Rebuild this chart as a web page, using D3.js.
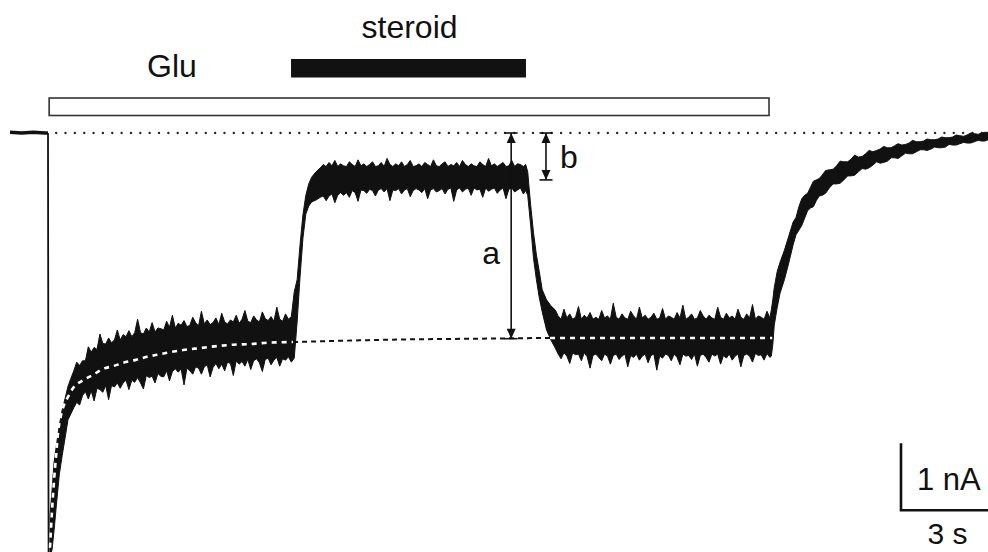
<!DOCTYPE html>
<html><head><meta charset="utf-8">
<script src="https://cdn.jsdelivr.net/npm/d3@7"></script>
<style>html,body{margin:0;padding:0;background:#fff;} svg{display:block}</style>
</head><body><svg id="c" width="988" height="552"></svg>
<script>
// ---- data: time (s), current (nA) ----
const preTrace = [[0,0.01],[0.4,0],[0.8,0.01],[1.2,0],[1.31,0]];
const dropTrace = [[1.31,0],[1.33,-6.32],[1.38,-6.31]];
// [t, upper envelope, lower envelope] of the noisy current
const gluPhase = [[1.38,-5.70,-6.31],[1.45,-5.33,-6.22],[1.52,-4.91,-5.93],[1.60,-4.66,-5.55],[1.70,-4.36,-5.10],[1.80,-4.13,-4.81],[1.90,-3.96,-4.55],[2.00,-3.78,-4.28],[2.10,-3.66,-4.19],[2.20,-3.55,-4.10],[2.30,-3.42,-4.02],[2.40,-3.47,-4.06],
[2.5,-3.40,-3.92],[2.6,-3.40,-3.86],[2.7,-3.19,-3.97],[2.8,-3.27,-3.85],[2.9,-3.20,-4.00],[3.0,-3.23,-3.81],[3.1,-3.00,-3.83],[3.2,-3.14,-3.87],[3.3,-3.15,-3.77],[3.4,-3.06,-3.98],[3.5,-3.13,-3.77],[3.6,-3.09,-3.79],[3.7,-2.94,-3.73],[3.8,-3.09,-3.81],[3.9,-3.01,-3.73],[4.0,-3.04,-3.69],[4.1,-2.95,-3.83],[4.2,-3.04,-3.69],[4.3,-2.98,-3.72],[4.4,-2.78,-3.65],[4.5,-2.98,-3.73],[4.6,-3.00,-3.82],[4.7,-2.91,-3.62],[4.8,-2.97,-3.65],[4.9,-2.83,-3.63],[5.0,-2.97,-3.73],[5.1,-2.91,-3.59],[5.2,-2.92,-3.63],[5.3,-2.94,-3.64],[5.4,-2.81,-3.55],[5.5,-2.90,-3.70],[5.6,-2.72,-3.56],[5.7,-2.91,-3.52],[5.8,-2.84,-3.57],[5.9,-2.87,-3.52],[6.0,-2.80,-3.76],[6.1,-2.89,-3.51],[6.2,-2.87,-3.55],[6.3,-2.75,-3.60],[6.4,-2.83,-3.49],[6.5,-2.88,-3.51],[6.6,-2.66,-3.60],[6.7,-2.85,-3.49],[6.8,-2.79,-3.46],[6.9,-2.86,-3.64],[7.0,-2.83,-3.50],[7.1,-2.76,-3.44],[7.2,-2.86,-3.52],[7.3,-2.69,-3.45],[7.4,-2.82,-3.55],[7.5,-2.85,-3.42],[7.6,-2.79,-3.44],[7.7,-2.82,-3.62],[7.8,-2.72,-3.40],[7.9,-2.84,-3.45],[8.0,-2.78,-3.41],[8.1,-2.65,-3.48],[8.2,-2.81,-3.38],[8.3,-2.83,-3.53],[8.4,-2.73,-3.40],[8.5,-2.79,-3.37],[8.6,-2.82,-3.43],[8.7,-2.67,-3.56],[8.8,-2.77,-3.38],[8.9,-2.80,-3.36],[9.0,-2.74,-3.46],[9.1,-2.81,-3.39],[9.2,-2.60,-3.35],[9.3,-2.78,-3.48],[9.4,-2.81,-3.37],[9.5,-2.70,-3.39],[9.6,-2.78,-3.34],[9.7,-2.74,-3.42],[9.80,-2.37,-3.36]];
const steroidPhase = [[9.90,-2.19,-2.82],[10.00,-1.67,-2.15],[10.10,-1.22,-1.57],[10.20,-0.93,-1.21],[10.30,-0.76,-1.09],[10.40,-0.66,-1.03],[10.55,-0.58,-1.00],[10.70,-0.52,-0.96],
[10.8,-0.47,-0.94],[10.9,-0.50,-1.01],[11.0,-0.44,-0.94],[11.1,-0.49,-0.91],[11.2,-0.41,-1.04],[11.3,-0.50,-0.93],[11.4,-0.46,-0.89],[11.5,-0.49,-0.93],[11.6,-0.50,-0.89],[11.7,-0.43,-0.96],[11.8,-0.47,-0.86],[11.9,-0.50,-0.89],[12.0,-0.40,-1.02],[12.1,-0.49,-0.85],[12.2,-0.46,-0.86],[12.3,-0.50,-0.90],[12.4,-0.47,-0.84],[12.5,-0.43,-0.86],[12.6,-0.50,-0.94],[12.7,-0.49,-0.85],[12.8,-0.44,-0.83],[12.9,-0.50,-0.88],[13.0,-0.38,-0.83],[13.1,-0.47,-1.01],[13.2,-0.50,-0.85],[13.3,-0.46,-0.86],[13.4,-0.49,-0.83],[13.5,-0.43,-0.91],[13.6,-0.50,-0.85],[13.7,-0.47,-0.83],[13.8,-0.41,-0.95],[13.9,-0.50,-0.86],[14.0,-0.49,-0.83],[14.1,-0.46,-0.85],[14.2,-0.50,-0.89],[14.3,-0.44,-0.83],[14.4,-0.47,-0.98],[14.5,-0.50,-0.85],[14.6,-0.40,-0.83],[14.7,-0.49,-0.88],[14.8,-0.50,-0.86],[14.9,-0.46,-0.83],[15.0,-0.43,-0.91],[15.1,-0.50,-0.84],[15.2,-0.47,-0.82],[15.3,-0.49,-1.02],[15.4,-0.44,-0.85],[15.5,-0.50,-0.82],[15.6,-0.41,-0.88],[15.7,-0.47,-0.84],[15.8,-0.50,-0.82],[15.9,-0.46,-0.93],[16.0,-0.49,-0.82],[16.1,-0.50,-0.85],[16.2,-0.43,-0.84],[16.3,-0.47,-0.96],[16.4,-0.50,-0.82],[16.5,-0.38,-0.87],[16.6,-0.49,-0.84],[16.7,-0.46,-0.82],[16.8,-0.50,-0.90],[16.9,-0.47,-0.85],[17.0,-0.44,-0.82],[17.1,-0.50,-0.98],[17.2,-0.49,-0.84],[17.3,-0.41,-0.82],[17.4,-0.50,-0.88],[17.5,-0.46,-0.85],[17.6,-0.47,-0.82],[17.7,-0.50,-0.91],[17.78,-0.47,-0.86],
[17.85,-0.58,-0.93],[17.95,-1.07,-1.37],[18.05,-1.49,-1.87],[18.15,-1.82,-2.19],[18.25,-2.07,-2.46],[18.35,-2.34,-2.67],[18.50,-2.49,-2.94],[18.65,-2.58,-3.09],[18.80,-2.64,-3.21]];
const washPhase = [[18.9,-2.73,-3.30],[19.0,-2.78,-3.37],[19.1,-2.63,-3.28],[19.2,-2.76,-3.33],[19.3,-2.70,-3.44],[19.4,-2.78,-3.28],[19.5,-2.75,-3.31],[19.6,-2.59,-3.30],[19.7,-2.78,-3.40],[19.8,-2.72,-3.28],[19.9,-2.76,-3.34],[20.0,-2.68,-3.51],[20.1,-2.78,-3.32],[20.2,-2.75,-3.30],[20.3,-2.78,-3.35],[20.4,-2.65,-3.40],[20.5,-2.76,-3.30],[20.6,-2.73,-3.33],[20.7,-2.78,-3.45],[20.8,-2.54,-3.32],[20.9,-2.75,-3.30],[21.0,-2.78,-3.38],[21.1,-2.70,-3.33],[21.2,-2.76,-3.30],[21.3,-2.78,-3.49],[21.4,-2.66,-3.32],[21.5,-2.73,-3.35],[21.6,-2.78,-3.30],[21.7,-2.60,-3.39],[21.8,-2.76,-3.33],[21.9,-2.72,-3.30],[22.0,-2.78,-3.43],[22.1,-2.75,-3.32],[22.2,-2.69,-3.30],[22.3,-2.78,-3.54],[22.4,-2.76,-3.33],[22.5,-2.62,-3.36],[22.6,-2.78,-3.30],[22.7,-2.73,-3.32],[22.8,-2.75,-3.40],[22.9,-2.78,-3.30],[23.0,-2.68,-3.35],[23.1,-2.76,-3.46],[23.2,-2.57,-3.30],[23.3,-2.78,-3.33],[23.4,-2.75,-3.32],[23.5,-2.70,-3.38],[23.6,-2.78,-3.30],[23.7,-2.76,-3.48],[23.8,-2.65,-3.32],[23.9,-2.73,-3.30],[24.0,-2.78,-3.35],[24.1,-2.72,-3.42],[24.2,-2.76,-3.30],[24.3,-2.78,-3.33],[24.4,-2.60,-3.30],[24.5,-2.75,-3.45],[24.6,-2.78,-3.32],[24.7,-2.69,-3.36],[24.8,-2.76,-3.30],[24.9,-2.73,-3.39],[25.0,-2.78,-3.33],[25.1,-2.63,-3.30],[25.2,-2.75,-3.49],[25.3,-2.78,-3.32],[25.4,-2.70,-3.30],[25.5,-2.76,-3.33],[25.6,-2.56,-3.42],[25.7,-2.78,-3.29],[25.8,-2.73,-3.32],[25.9,-2.75,-3.31],[26.0,-2.78,-3.39],[26.1,-2.66,-3.29],[26.2,-2.76,-3.35],[26.25,-2.64,-3.33],[26.30,-2.49,-3.16]];
const recoveryPhase = [[26.35,-2.31,-2.87],[26.45,-2.07,-2.61],[26.55,-1.93,-2.39],[26.70,-1.75,-2.19],[26.85,-1.54,-1.94],[27.00,-1.33,-1.67],[27.10,-1.26,-1.52],[27.20,-1.10,-1.45],[27.30,-0.98,-1.38],[27.40,-0.93,-1.27],[27.50,-0.90,-1.16],[27.60,-0.81,-1.12],[27.70,-0.72,-1.10],[27.80,-0.70,-1.01],[27.90,-0.68,-0.94],[28.00,-0.63,-0.93],[28.12,-0.56,-0.90],[28.25,-0.55,-0.82],[28.38,-0.54,-0.76],[28.50,-0.49,-0.76],[28.62,-0.42,-0.75],[28.75,-0.43,-0.70],[28.88,-0.43,-0.64],[29.00,-0.39,-0.64],[29.12,-0.33,-0.63],[29.25,-0.36,-0.58],[29.38,-0.35,-0.53],[29.50,-0.31,-0.54],[29.62,-0.26,-0.52],[29.75,-0.28,-0.48],[29.88,-0.26,-0.43],[30.00,-0.24,-0.45],[30.12,-0.20,-0.44],[30.25,-0.22,-0.42],[30.38,-0.22,-0.37],[30.50,-0.19,-0.37],[30.62,-0.16,-0.38],[30.75,-0.18,-0.34],[30.88,-0.17,-0.30],[31.00,-0.15,-0.31],[31.12,-0.11,-0.31],[31.25,-0.13,-0.28],[31.38,-0.13,-0.25],[31.50,-0.12,-0.25],[31.62,-0.09,-0.26],[31.75,-0.10,-0.24],[31.88,-0.10,-0.21],[32.00,-0.09,-0.22],[32.12,-0.06,-0.22],[32.25,-0.07,-0.21],[32.38,-0.07,-0.17],[32.50,-0.06,-0.18],[32.62,-0.03,-0.18],[32.75,-0.04,-0.16],[32.88,-0.05,-0.14],[33.00,-0.03,-0.15],[33.12,0.00,-0.15],[33.25,-0.01,-0.13],[33.38,-0.02,-0.11],[33.50,0.00,-0.12],[33.61,0.01,-0.12],[33.72,0.01,-0.10]];
// exponential fit of the desensitising Glu current [t, I]
const fitCurve = [[1.38,-6.19],[1.45,-5.63],[1.52,-5.18],[1.59,-4.81],[1.66,-4.46],[1.76,-4.21],[1.86,-4.06],[2.00,-3.94],[2.17,-3.81],[2.52,-3.69],[2.86,-3.61],[3.21,-3.52],[3.55,-3.48],[3.90,-3.43],[4.31,-3.39],[4.72,-3.34],[5.07,-3.31],[5.41,-3.28],[5.97,-3.24],[6.55,-3.21],[7.14,-3.18],[7.69,-3.16],[8.28,-3.15],[8.86,-3.13],[9.76,-3.12],[13.79,-3.08],[16.21,-3.07],[18.62,-3.06],[26.28,-3.06]];
const baselineSpan = [1.59, 33.72];
const applications = [{label:"Glu", start:1.35, end:26.17}, {label:"steroid", start:9.69, end:17.79}];
const arrows = [{label:"a", t:17.28, from:0, to:-3.07}, {label:"b", t:18.48, from:0, to:-0.70}];
const scaleBar = {t:30.72, I:-5.63, dt:3, dI:1, tLabel:"3 s", ILabel:"1 nA"};

// ---- drawing ----
const svg = d3.select("#c");
const x = d3.scaleLinear().domain([0, 33.72]).range([10, 988]);
const y = d3.scaleLinear().domain([0, -1]).range([133, 200]);
const ink = "#111";
const font = "'Liberation Sans', Arial, Helvetica, sans-serif";

// application bars
const glu = applications[0], ster = applications[1];
svg.append("rect").attr("x", x(glu.start)).attr("y", 98).attr("width", x(glu.end)-x(glu.start)).attr("height", 17.5)
  .attr("fill", "#fff").attr("stroke", "#333").attr("stroke-width", 1.6);
svg.append("rect").attr("x", x(ster.start)).attr("y", 59).attr("width", x(ster.end)-x(ster.start)).attr("height", 18.5)
  .attr("fill", ink);
svg.append("text").attr("x", 172).attr("y", 77).attr("text-anchor", "middle").attr("font-family", font)
  .attr("font-size", 32).attr("fill", ink).text(glu.label);
svg.append("text").attr("x", (x(ster.start)+x(ster.end))/2 + 1).attr("y", 38).attr("text-anchor", "middle").attr("font-family", font)
  .attr("font-size", 32).attr("fill", ink).text(ster.label);

// dotted baseline
svg.append("line").attr("x1", x(baselineSpan[0])).attr("x2", x(baselineSpan[1])).attr("y1", y(0)).attr("y2", y(0))
  .attr("stroke", "#222").attr("stroke-width", 2.3).attr("stroke-linecap", "round").attr("stroke-dasharray", "0.1 9.25");

// black dashed fit continuation
const fitLine = d3.line().x(d => x(d[0])).y(d => y(d[1])).curve(d3.curveMonotoneX);
svg.append("path").attr("d", fitLine(fitCurve.filter(d => d[0] >= 9.7))).attr("fill", "none")
  .attr("stroke", ink).attr("stroke-width", 2).attr("stroke-dasharray", "5 4");

// trace
const line = d3.line().x(d => x(d[0])).y(d => y(d[1]));
svg.append("path").attr("d", line(preTrace)).attr("fill", "none").attr("stroke", ink).attr("stroke-width", 3.5);
svg.append("path").attr("d", line(dropTrace)).attr("fill", "none").attr("stroke", ink).attr("stroke-width", 1.8);
const trace = gluPhase.concat(steroidPhase, washPhase, recoveryPhase);
const area = d3.area().x(d => x(d[0])).y0(d => y(d[2])).y1(d => y(d[1]));
svg.append("path").attr("d", area(trace)).attr("fill", ink).attr("stroke", ink).attr("stroke-width", 1).attr("stroke-linejoin", "miter");

// white dashed fit over the trace
svg.append("path").attr("d", fitLine(fitCurve.filter(d => d[0] <= 9.76))).attr("fill", "none")
  .attr("stroke", "#fff").attr("stroke-width", 2.6).attr("stroke-dasharray", "5 5");
svg.append("path").attr("d", fitLine(fitCurve.filter(d => d[0] >= 18.62))).attr("fill", "none")
  .attr("stroke", "#fff").attr("stroke-width", 2.6).attr("stroke-dasharray", "5 5");

// measurement arrows
arrows.forEach(a => {
  const ax = x(a.t), y1 = y(a.from), y2 = y(a.to);
  const g = svg.append("g").attr("stroke", ink).attr("fill", ink);
  g.append("line").attr("x1", ax).attr("x2", ax).attr("y1", y1).attr("y2", y2).attr("stroke-width", 1.6);
  g.append("line").attr("x1", ax-6.5).attr("x2", ax+6.5).attr("y1", y1).attr("y2", y1).attr("stroke-width", 1.6);
  g.append("line").attr("x1", ax-6.5).attr("x2", ax+6.5).attr("y1", y2).attr("y2", y2).attr("stroke-width", 1.6);
  g.append("path").attr("stroke", "none").attr("d", `M${ax},${y1}L${ax-4.5},${y1+10}L${ax+4.5},${y1+10}Z`);
  g.append("path").attr("stroke", "none").attr("d", `M${ax},${y2}L${ax-4.5},${y2-10}L${ax+4.5},${y2-10}Z`);
});
svg.append("text").attr("x", x(arrows[0].t) - 20).attr("y", 264).attr("text-anchor", "middle").attr("font-family", font)
  .attr("font-size", 32).attr("fill", ink).text(arrows[0].label);
svg.append("text").attr("x", x(arrows[1].t) + 23).attr("y", 168).attr("text-anchor", "middle").attr("font-family", font)
  .attr("font-size", 32).attr("fill", ink).text(arrows[1].label);

// scale bar
const sx = x(scaleBar.t), sy = y(scaleBar.I);
svg.append("path").attr("d", `M${sx},${y(scaleBar.I + scaleBar.dI)}L${sx},${sy}L${x(scaleBar.t + scaleBar.dt)},${sy}`)
  .attr("fill", "none").attr("stroke", ink).attr("stroke-width", 2.6);
svg.append("text").attr("x", sx + 16).attr("y", 490).attr("font-family", font).attr("font-size", 31).attr("fill", ink).text(scaleBar.ILabel);
svg.append("text").attr("x", (sx + x(scaleBar.t + scaleBar.dt))/2 + 3).attr("y", 544).attr("text-anchor", "middle").attr("font-family", font)
  .attr("font-size", 30).attr("fill", ink).text(scaleBar.tLabel);
</script></body></html>
